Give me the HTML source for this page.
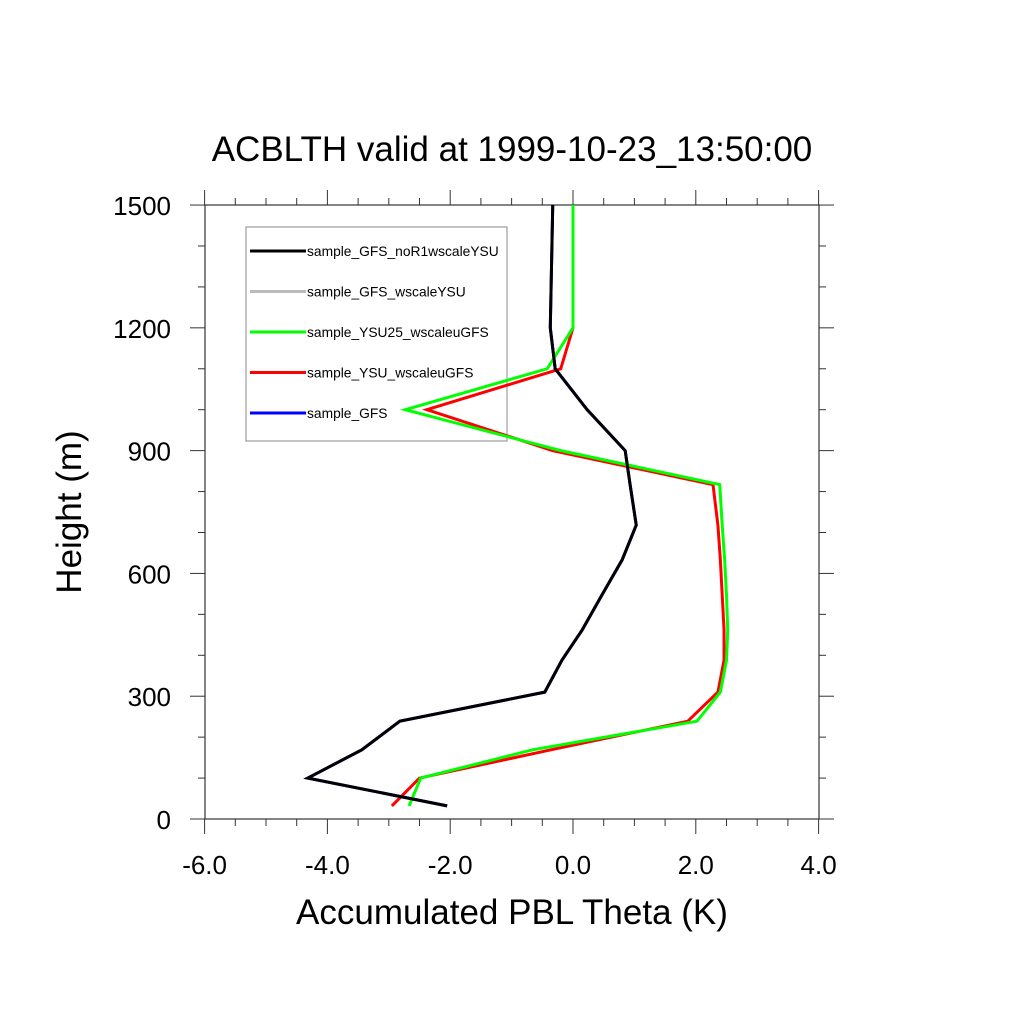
<!DOCTYPE html>
<html><head><meta charset="utf-8"><style>body{margin:0;background:#fff}svg{display:block;font-family:"Liberation Sans",sans-serif}</style></head>
<body>
<svg width="1024" height="1024" viewBox="0 0 1024 1024">
<text x="512" y="161" font-size="35" text-anchor="middle">ACBLTH valid at 1999-10-23_13:50:00</text>
<g id="axes"></g>
<g>
<rect x="246" y="227" width="261" height="214" fill="none" stroke="#888" stroke-width="1"/>
<g id="legend"></g>
</g>
<g id="series"></g>
<text x="512" y="924" font-size="35" text-anchor="middle">Accumulated PBL Theta (K)</text>
<text transform="translate(81,512) rotate(-90)" font-size="35" text-anchor="middle">Height (m)</text>
</svg>
<script>
const heights=[1500,1200,1100,1000,900,817,718,633,547,462,388,310,239,169,100,32];
const blackVals=[-0.33,-0.37,-0.29,0.23,0.85,0.93,1.03,0.80,0.47,0.15,-0.18,-0.46,-2.82,-3.44,-4.32,-2.05];
const redVals=[0.0,0.0,-0.2,-2.38,-0.33,2.28,2.36,2.40,2.43,2.46,2.46,2.36,1.87,-0.36,-2.5,-2.95];
const greenVals=[0.0,0.0,-0.42,-2.73,-0.2,2.39,2.43,2.47,2.50,2.52,2.50,2.40,2.02,-0.66,-2.48,-2.67];
const xTicks=[-6,-4,-2,0,2,4];
const yTicks=[0,300,600,900,1200,1500];
const seriesNames=["sample_GFS_noR1wscaleYSU","sample_GFS_wscaleYSU","sample_YSU25_wscaleuGFS","sample_YSU_wscaleuGFS","sample_GFS"];
const seriesColors=["#000","#bbb","#00ff00","#ff0000","#0000ff"];
const NS="http://www.w3.org/2000/svg";
const X=v=>573+v*61.4, Y=v=>819-v*0.4093;
function mk(t,a,p){const e=document.createElementNS(NS,t);for(const k in a)e.setAttribute(k,a[k]);p.appendChild(e);return e;}
const ax=document.getElementById('axes');
const frame=mk('rect',{x:205,y:205,width:614,height:614,fill:'none',stroke:'#333','stroke-width':1.2},ax);


for(let v=-6;v<=4.001;v+=0.5){const maj=Math.abs(v-Math.round(v/2)*2)<1e-6;const L=maj?15:7;const x=X(v);
 mk('line',{x1:x,x2:x,y1:819,y2:819+L,stroke:'#333'},ax);mk('line',{x1:x,x2:x,y1:205,y2:205-L,stroke:'#333'},ax);}
for(let v=0;v<=1500;v+=100){const maj=v%300===0;const L=maj?15:7;const y=Y(v);
 mk('line',{x1:205,x2:205-L,y1:y,y2:y,stroke:'#333'},ax);mk('line',{x1:819,x2:819+L,y1:y,y2:y,stroke:'#333'},ax);}
xTicks.forEach(v=>{const t=mk('text',{x:X(v),y:874,'font-size':26,'text-anchor':'middle'},ax);t.textContent=v.toFixed(1);

});
yTicks.forEach(v=>{const t=mk('text',{x:171,y:Y(v)+10,'font-size':26,'text-anchor':'end'},ax);t.textContent=v;

});
const sg=document.getElementById('series');
function line(vals,color,name){const p=mk('polyline',{points:vals.map((v,i)=>X(v)+','+Y(heights[i])).join(' '),fill:'none',stroke:color,'stroke-width':3,'stroke-linejoin':'miter'},sg);

}
line(blackVals,'#0000ff','series-sample-gfs');
line(redVals,'#ff0000','series-ysu-wscaleugfs');
line(greenVals,'#00ff00','series-ysu25-wscaleugfs');
line(blackVals,'#000','series-gfs-nor1wscaleysu');
const lg=document.getElementById('legend');
seriesNames.forEach((n,i)=>{const y=251+i*40.5;
 const g=mk('g',{},lg);
 
 
 mk('line',{x1:250,x2:306,y1:y,y2:y,stroke:seriesColors[i],'stroke-width':3},g);
 const t=mk('text',{x:307,y:y+5,'font-size':13.8},g);t.textContent=n;});
</script>
</body></html>
